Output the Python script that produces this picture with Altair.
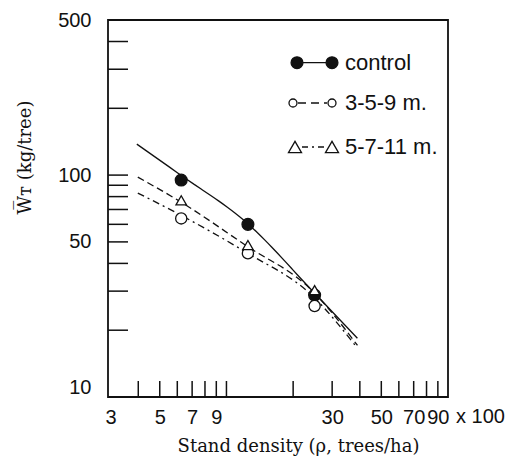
import altair as alt
import pandas as pd

# ---------------- data ----------------
series = ["control", "3-5-9 m.", "5-7-11 m."]

density = [6.25, 12.5, 25]            # x 100 trees/ha
w_control = [95, 60, 28.8]            # kg/tree
w_359 = [63.8, 44.4, 25.7]
w_5711 = [77, 48.4, 30.3]

curve_x_control = [3.94, 6.22, 12.34, 24.5, 39.0]
curve_w_control = [137.9, 100, 61.0, 30.0, 18.4]
curve_x_359 = [3.98, 6.22, 12.2, 24.5, 39.0]
curve_w_359 = [83.0, 66.0, 45.0, 28.5, 16.6]
curve_x_5711 = [3.98, 6.22, 12.2, 24.5, 39.0]
curve_w_5711 = [97.9, 75.7, 48.3, 30.0, 17.1]

x_tick_values = [4, 5, 6, 7, 8, 9, 10, 20, 30, 40, 50, 60, 70, 80, 90]
y_tick_values = [20, 30, 40, 50, 60, 70, 80, 90, 100, 200, 300, 400]
x_label_values = [3, 5, 7, 9, 30, 50, 70, 90]
y_label_values = [10, 50, 100, 500]

INK = "#111111"
W, H = 340, 377

# line styles / marker styles per series (plot)
dash_plot = [[10, 0], [7, 4, 2, 4], [7, 4]]
shapes = ["circle", "circle", "triangle-up"]
fills = [INK, "white", "white"]
sizes = [140, 110, 170]

# ---------------- tables ----------------
pts = pd.DataFrame(
    [{"series": s, "x": x, "w": w}
     for s, ws in zip(series, [w_control, w_359, w_5711])
     for x, w in zip(density, ws)]
)
curves = pd.DataFrame(
    [{"series": s, "x": x, "w": w}
     for s, xs, ws in zip(series,
                          [curve_x_control, curve_x_359, curve_x_5711],
                          [curve_w_control, curve_w_359, curve_w_5711])
     for x, w in zip(xs, ws)]
)
xt = pd.DataFrame({"x": x_tick_values})
yt = pd.DataFrame({"w": y_tick_values})
unit = pd.DataFrame({"x": [100], "t": ["x 100"]})

xscale = alt.Scale(type="log", domain=[2.92, 100], nice=False)
yscale = alt.Scale(type="log", domain=[10, 500], nice=False)

xenc = alt.X("x:Q", scale=xscale, axis=alt.Axis(
    values=x_label_values, format="d", ticks=False, domain=False, grid=False,
    labelFont="Liberation Sans", labelFontSize=20, labelColor=INK, labelPadding=10,
    labelFlush=False, title="Stand density (ρ, trees/ha)", titleFont="DejaVu Serif",
    titleFontSize=18, titleFontWeight="normal", titleColor=INK, titleX=190, titleY=49,
    titleAlign="center", titleBaseline="middle"))
yenc = alt.Y("w:Q", scale=yscale, axis=alt.Axis(
    values=y_label_values, format="d", ticks=False, domain=False, grid=False,
    labelFont="Liberation Sans", labelFontSize=20, labelColor=INK, labelPadding=17,
    labelBaseline={"expr": "datum.value == 10 ? 'bottom' : 'middle'"},
    labelFlush=False,
    title="W\u0305\u1d1b (kg/tree)", titleFont="DejaVu Serif", titleFontSize=18,
    titleFontWeight="normal", titleColor=INK, titleX=-83, titleY=137,
    titleAlign="center", titleBaseline="middle", titleAngle=270))

lines = alt.Chart(curves).mark_line(strokeWidth=1.3, color=INK, interpolate="monotone").encode(
    x=xenc, y=yenc,
    strokeDash=alt.StrokeDash("series:N", scale=alt.Scale(domain=series, range=dash_plot), legend=None),
)

points = alt.Chart(pts).mark_point(filled=True, stroke=INK, strokeWidth=1.3, opacity=1).encode(
    x="x:Q", y="w:Q",
    shape=alt.Shape("series:N", scale=alt.Scale(domain=series, range=shapes), legend=None),
    fill=alt.Fill("series:N", scale=alt.Scale(domain=series, range=fills), legend=None),
    size=alt.Size("series:N", scale=alt.Scale(domain=series, range=sizes), legend=None),
)

xticks = alt.Chart(xt).mark_rule(color=INK, strokeWidth=1.5).encode(
    x="x:Q", y=alt.value(H), y2=alt.value(H - 16))
yticks = alt.Chart(yt).mark_rule(color=INK, strokeWidth=1.5).encode(
    y="w:Q", x=alt.value(0), x2=alt.value(20))

unit_text = alt.Chart(unit).mark_text(
    align="left", baseline="top", dx=8, dy=10, font="Liberation Sans", fontSize=20, color=INK
).encode(x="x:Q", y=alt.value(H), text="t:N")

# ---------------- legend (drawn inside the plot, top right) ----------------
leg_rows_y = [42.7, 83, 127]
leg_sym_x = [[189, 224], [185, 224], [187, 224]]
leg_line_x = [[195, 218], [190, 219], [194, 218]]
leg_dash = [[10, 0], [8, 5], [6, 4, 2, 4]]
leg_sizes = [140, 64, 170]
leg_text_x = 237

legend_layers = []
for i, s in enumerate(series):
    d = pd.DataFrame({"s": [s]})
    yv = leg_rows_y[i]
    legend_layers.append(
        alt.Chart(d).mark_rule(color=INK, strokeWidth=1.3, strokeDash=leg_dash[i]).encode(
            x=alt.value(leg_line_x[i][0]), x2=alt.value(leg_line_x[i][1]), y=alt.value(yv)))
    for xv in leg_sym_x[i]:
        legend_layers.append(
            alt.Chart(d).mark_point(shape=shapes[i], filled=True, fill=fills[i], stroke=INK,
                                    strokeWidth=1.3, size=leg_sizes[i], opacity=1).encode(
                x=alt.value(xv), y=alt.value(yv)))
    legend_layers.append(
        alt.Chart(d).mark_text(align="left", baseline="middle", font="Liberation Sans",
                               fontSize=22, color=INK).encode(
            x=alt.value(leg_text_x), y=alt.value(yv), text="s:N"))

chart = alt.layer(xticks, yticks, lines, points, unit_text, *legend_layers).properties(
    width=W, height=H,
    padding={"left": 100, "top": 12, "right": 60, "bottom": 60},
    autosize=alt.AutoSizeParams(type="none"),
    background="white",
).configure_view(stroke=INK, strokeWidth=1.8)

chart.save("out.html", embed_options={"renderer": "svg", "actions": False})
